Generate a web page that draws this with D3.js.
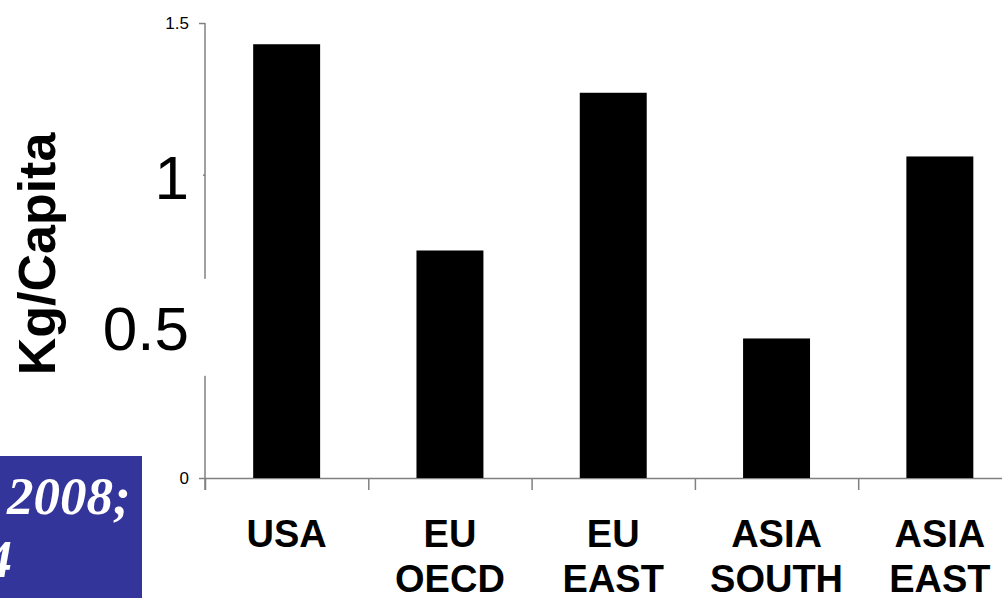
<!DOCTYPE html>
<html>
<head>
<meta charset="utf-8">
<script src="https://cdn.jsdelivr.net/npm/d3@7/dist/d3.min.js"></script>
<style>
  html, body { margin: 0; padding: 0; background: #fff; }
  svg { display: block; }
</style>
</head>
<body>
<svg id="chart" width="1002" height="598"></svg>
<script>
// Consumption per capita by region (kg)
const categories = ["USA", "EU OECD", "EU EAST", "ASIA SOUTH", "ASIA EAST"];
const values = [1.43, 0.75, 1.27, 0.46, 1.06];
const yTicks = [0, 0.5, 1, 1.5];
const yTickLabels = ["0", "0.5", "1", "1.5"];
const yTitle = "Kg/Capita";
const noteLines = ["2008;", "4"];

const svg = d3.select("#chart");
const W = 1002, H = 598;
const axisColor = "#808080";

const plotLeft = 205, plotTop = 23, plotBottom = 478;
const step = 163.3;
const plotRight = plotLeft + categories.length * step;

const y = d3.scaleLinear().domain([0, 1.5]).range([plotBottom, plotTop]);
const x = d3.scaleBand().domain(categories).range([plotLeft, plotRight])
  .paddingInner(0.59).paddingOuter(0.295);
const xEdges = d3.scaleLinear().domain([0, categories.length]).range([plotLeft, plotRight]);

// Source note box in the lower left corner
svg.append("rect").attr("x", 0).attr("y", 456).attr("width", 142).attr("height", H - 456)
  .attr("fill", "#34359a");
const note = svg.append("g")
  .attr("font-family", "'Liberation Serif', 'Times New Roman', serif")
  .attr("font-weight", "bold").attr("font-style", "italic")
  .attr("font-size", 53).attr("fill", "#fff");
note.append("text").attr("x", 7).attr("y", 514).text(noteLines[0]);
note.append("text").attr("x", 12).attr("y", 577).attr("text-anchor", "end").text(noteLines[1]);

// Vertical axis line, running a little past the baseline
svg.append("line")
  .attr("x1", plotLeft).attr("x2", plotLeft)
  .attr("y1", y(1.5)).attr("y2", plotBottom + 12)
  .attr("stroke", axisColor).attr("stroke-width", 1.5);

// Horizontal axis with ticks at the category boundaries
const xAxis = svg.append("g")
  .attr("transform", `translate(0,${plotBottom})`)
  .call(d3.axisBottom(xEdges)
    .tickValues(d3.range(categories.length + 1))
    .tickFormat("")
    .tickSize(12).tickSizeOuter(0));
xAxis.selectAll("path, line").attr("stroke", axisColor).attr("stroke-width", 1.5);

// Bars
svg.append("g").selectAll("rect")
  .data(categories)
  .join("rect")
  .attr("x", d => x(d))
  .attr("width", x.bandwidth())
  .attr("y", (d, i) => y(values[i]))
  .attr("height", (d, i) => y(0) - y(values[i]))
  .attr("fill", "#000");

// Vertical axis ticks and labels
const bigTick = v => v === 0.5 || v === 1;
const yAxis = svg.append("g")
  .attr("transform", `translate(${plotLeft},0)`)
  .call(d3.axisLeft(y)
    .tickValues(yTicks)
    .tickFormat((d, i) => yTickLabels[i])
    .tickSize(6).tickPadding(10));
yAxis.select(".domain").remove();
yAxis.selectAll(".tick line").attr("stroke", axisColor).attr("stroke-width", 1.5);
yAxis.selectAll(".tick text")
  .style("font-family", "'Liberation Sans', Arial, sans-serif")
  .style("fill", "#000")
  .style("font-size", d => bigTick(d) ? "62px" : "17px")
  .attr("dy", d => bigTick(d) ? "0.38em" : "0.34em");

// White label backgrounds for the large tick labels
yAxis.selectAll(".tick").filter(d => d === 0.5)
  .insert("rect", "text")
  .attr("x", -112).attr("y", -48).attr("width", 114).attr("height", 97)
  .attr("fill", "#fff");
yAxis.selectAll(".tick").filter(d => d === 1)
  .insert("rect", "text")
  .attr("x", -62).attr("y", -28).attr("width", 60).attr("height", 56)
  .attr("fill", "#fff");

// Category labels, split over two lines
const labels = svg.append("g")
  .attr("font-family", "'Liberation Sans', Arial, sans-serif")
  .attr("font-weight", "bold").attr("font-size", 38)
  .attr("text-anchor", "middle").attr("fill", "#000");
labels.selectAll("text")
  .data(categories)
  .join("text")
  .attr("transform", d => `translate(${x(d) + x.bandwidth() / 2},547)`)
  .selectAll("tspan")
  .data(d => d.split(" "))
  .join("tspan")
  .attr("x", 0)
  .attr("y", (d, i) => i * 45)
  .text(d => d);

// Vertical axis title
svg.append("text")
  .attr("transform", "translate(55,254) rotate(-90)")
  .attr("text-anchor", "middle")
  .attr("font-family", "'Liberation Sans', Arial, sans-serif")
  .attr("font-weight", "bold").attr("font-size", 52)
  .attr("fill", "#000")
  .text(yTitle);
</script>
</body>
</html>
